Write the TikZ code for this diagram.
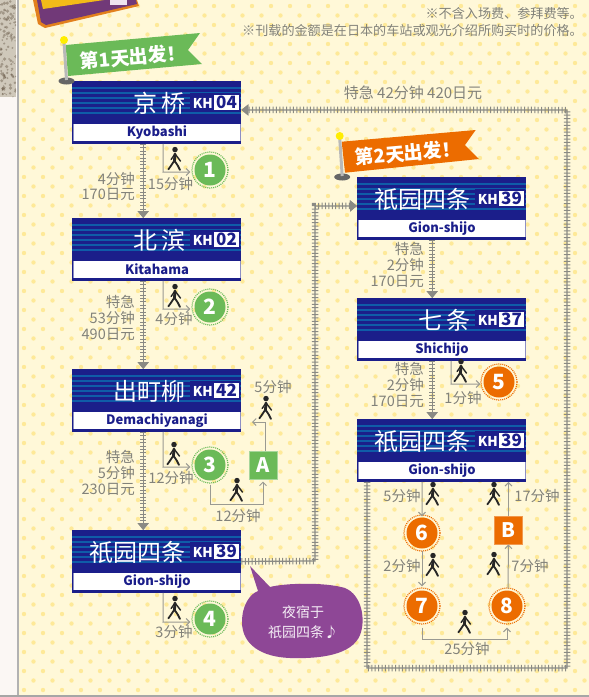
\documentclass[tikz,border=0pt]{standalone}
\usepackage{fontspec}
\usetikzlibrary{arrows.meta,calc}
\setmainfont{Noto Sans CJK SC}
\definecolor{bgc}{HTML}{FFF8D8}
\definecolor{dotc}{HTML}{FEE998}
\definecolor{navy}{HTML}{1B1E8A}
\definecolor{stripe}{HTML}{0F5CA8}
\definecolor{txt}{HTML}{82827A}
\definecolor{trk}{HTML}{8A8A84}
\definecolor{arw}{HTML}{9A9A92}
\definecolor{grn}{HTML}{6BBA58}
\definecolor{org}{HTML}{EC6C00}
\definecolor{purp}{HTML}{8E4796}
\definecolor{photo}{HTML}{CFC8BA}
\tikzset{
  x=1pt,y=-1pt,
  track/.style={draw=trk,line width=1.2pt,postaction={draw=trk,line width=6.5pt,dash pattern=on 1pt off 2.4pt}},
  trackarrow/.style={track,-{Triangle[width=11pt,length=7pt]}},
  walk/.style={draw=arw,line width=1pt,-{Straight Barb[length=3.5pt,width=7pt]}},
  lbl/.style={text=txt,font=\fontsize{14.5}{15.8}\selectfont,inner sep=0pt,align=right},
  num/.style={circle,minimum size=31pt,inner sep=0pt,text=white,font=\bfseries\fontsize{21}{21}\selectfont},
  numg/.style={num,fill=grn},
  numo/.style={num,fill=org},
  boxlab/.style={minimum size=28pt,inner sep=0pt,text=white,font=\bfseries\fontsize{20}{20}\selectfont},
  stationbox/.style={minimum width=169pt,minimum height=62.5pt,inner sep=0pt,fill=navy},
  flagtext/.style={text=white,rotate=5,font=\bfseries\fontsize{19}{19}\selectfont,inner sep=0pt},
  note/.style={text=txt,font=\fontsize{13.1}{13}\selectfont,inner sep=0pt,anchor=east},
  walker/.pic={
    \begin{scope}[scale=1.1]
    \fill[black!85] (0,-9.5) circle (2.5);
    \draw[black!85,line width=2.8pt,line cap=round,line join=round] (0,-5.5) -- (-0.5,1);
    \draw[black!85,line width=1.8pt,line cap=round,line join=round] (-0.5,0.5) -- (-3.5,5) -- (-6,8.5) (-0.5,0.5) -- (2.5,5) -- (4.5,9);
    \draw[black!85,line width=1.4pt,line cap=round,line join=round] (0,-5.5) -- (-3.5,-0.5) (0,-5.5) -- (3.5,-1) -- (5,1);
    \end{scope}
  }
}
% name, left x, top y, jp, number, en
\newcommand{\stationsign}[6]{%
  \node[stationbox,anchor=north west] (#1) at (#2,#3) {};
  \foreach \s in {6,11,16,21,26,31}{
    \fill[stripe] (#2,#3+\s) rectangle (#2+169,#3+\s+1.8);
  }
  \fill[white] (#2+1,#3+43) rectangle (#2+168,#3+59.5);
  \draw[navy!50,line width=.5pt] (#2+1,#3+43) -- (#2+1,#3+59.5) (#2+168,#3+43) -- (#2+168,#3+59.5);
  \fill[navy] (#2+118,#3+12) rectangle (#2+168,#3+31);
  \fill[white] (#2+142,#3+14) rectangle (#2+166.5,#3+29);
  \node[anchor=east,inner sep=0pt,text=white,font=\fontsize{24}{25}\selectfont] at (#2+113.5,#3+22) {#4};
  \node[anchor=east,inner sep=0pt,text=white,font=\bfseries\fontsize{13.5}{14}\selectfont] at (#2+141,#3+22.5) {KH};
  \node[inner sep=0pt,text=navy,font=\bfseries\fontsize{17}{17}\selectfont] at (#2+154.5,#3+21.5) {#5};
  \node[inner sep=0pt,text=navy,font=\bfseries\fontsize{13}{13}\selectfont] at (#2+85,#3+51.5) {#6};
}
\newcommand{\flagmark}[3]{%
  \fill[gray!80!black] (#1+2.5,#2+41) ellipse (8 and 3.5);
  \draw[gray!55,line width=3pt] (#1,#2+2) -- (#1+2.5,#2+40);
  \fill[yellow!95!orange] (#1,#2) circle (4);
}
\begin{document}
\begin{tikzpicture}
\useasboundingbox (0,0) rectangle (589,697);
% background
\fill[bgc] (0,0) rectangle (589,697);
\begin{scope}
\clip (18,0) rectangle (589,693);
\foreach \j in {-5,...,68}{
  \pgfmathsetmacro{\off}{mod(\j+6,2)*9.5}
  \foreach \i in {0,...,30}{
    \fill[dotc] (24+19*\i+\off,44+9.5*\j) circle (2.2);
  }
}
\end{scope}
\fill[white!94!brown] (0,0) rectangle (17,697);
\fill[photo] (0,0) rectangle (16,97);
\pgfmathsetseed{7}
\begin{scope}
\clip (0,0) rectangle (16,97);
\foreach \k in {1,...,110}{
  \pgfmathsetmacro{\px}{rnd*16}
  \pgfmathsetmacro{\py}{rnd*97}
  \pgfmathsetmacro{\pr}{0.6+rnd*1.3}
  \fill[black!70!brown,opacity=.3] (\px,\py) circle (\pr);
}
\end{scope}
\draw[gray!60,line width=1.4pt] (18,0) -- (18,697);
\fill[gray!70] (0,695) rectangle (589,697);
% top object
\fill[orange!55!brown] (33,0) -- (38,24) -- (45,28) -- (139,6) -- (137,0) -- cycle;
\fill[purp!80!black] (37,0) -- (41,22) -- (46,25) -- (137,4) -- (136,0) -- cycle;
\fill[yellow!55!orange!85!brown] (41,0) -- (43,9) -- (104,0) -- cycle;
\fill[white!85!purp] (110,0) rectangle (127,5);
% notes
\node[note] (n1) at (583,14) {※不含入场费、参拜费等。};
\node[note] (n2) at (583,31) {※刊载的金额是在日本的车站或观光介绍所购买时的价格。};
\stationsign{st1}{72}{81}{京\,桥}{04}{Kyobashi}
\stationsign{st2}{72}{218}{北\,滨}{02}{Kitahama}
\stationsign{st3}{72}{369}{出町柳}{42}{Demachiyanagi}
\stationsign{st4}{72}{530}{祇园四条}{39}{Gion-shijo}
\stationsign{st5}{357}{177}{祇园四条}{39}{Gion-shijo}
\stationsign{st6}{357}{298}{七\,条}{37}{Shichijo}
\stationsign{st7}{357}{419}{祇园四条}{39}{Gion-shijo}
% tracks
\draw[trackarrow] ([xshift=-13.5pt]st1.south) -- ([xshift=-13.5pt]st2.north);
\draw[trackarrow] ([xshift=-13.5pt]st2.south) -- ([xshift=-13.5pt]st3.north);
\draw[trackarrow] ([xshift=-13.5pt]st3.south) -- ([xshift=-13.5pt]st4.north);
\coordinate (c4a) at (315,561);
\coordinate (c4b) at (315,206);
\draw[trackarrow] (st4.east) -- (c4a) -- (c4b) -- ([yshift=2.5pt]st5.west);
\draw[trackarrow] ([xshift=-9.5pt]st5.south) -- ([xshift=-9.5pt]st6.north);
\draw[trackarrow] ([xshift=-9.5pt]st6.south) -- ([xshift=-9.5pt]st7.north);
\coordinate (r1) at (367,668);
\coordinate (r2) at (567,668);
\coordinate (r3) at (567,110);
\draw[trackarrow] (st7.south west) ++(10,0) -- (r1) -- (r2) -- (r3) -- ([yshift=2.5pt]st1.east);
% flags
\fill[grn] (65.7,45) -- (200,33) -- (188,50) -- (202,64) -- (68,76) -- cycle;
\flagmark{64}{40}{}
\node[flagtext] (f1) at (133,57) {第1天出发！};
\fill[org] (341.7,141.7) -- (475.7,130) -- (465,145) -- (479,159) -- (345,172.7) -- cycle;
\flagmark{339.7}{136}{}
\node[flagtext] (f2) at (408,153) {第2天出发！};
% numbered spots
\foreach \n/\t/\xx/\yy in {c1/1/210/170,c2/2/210/307,c3/3/210/465,c4/4/210/619}{
  \node[numg] (\n) at (\xx,\yy) {\t};
  \draw[grn,line width=1.2pt,dash pattern=on 1pt off 1pt] (\xx,\yy) circle (18);
}
\foreach \n/\t/\xx/\yy in {c5/5/499/382,c6/6/422/533,c7/7/422/606,c8/8/507/606}{
  \node[numo] (\n) at (\xx,\yy) {\t};
  \draw[org,line width=1.2pt,dash pattern=on 1pt off 1pt] (\xx,\yy) circle (18);
}
\node[boxlab,fill=grn,draw=grn!60,line width=1pt] (A) at (263,465) {A};
\node[boxlab,fill=org,draw=org!70,line width=1pt] (B) at (508.5,530) {B};
% walking connectors
\coordinate (w1) at (163,172);
\draw[walk] ([xshift=6.5pt]st1.south) -- (w1) -- ([shift={(-4,2)}]c1.west);
\coordinate (w2) at (163,309);
\draw[walk] ([xshift=6.5pt]st2.south) -- (w2) -- ([shift={(-4,2)}]c2.west);
\coordinate (w3) at (163,467);
\draw[walk] ([xshift=6.5pt]st3.south) -- (w3) -- ([shift={(-4,2)}]c3.west);
\coordinate (w4) at (163,622);
\draw[walk] ([xshift=6.5pt]st4.south) -- (w4) -- ([shift={(-4,3)}]c4.west);
\coordinate (w5) at (451,384);
\draw[walk] ([xshift=9.5pt]st6.south) -- (w5) -- ([shift={(-3,2)}]c5.west);
\coordinate (wa) at (210,504);
\coordinate (wb) at (263,504);
\draw[walk] (c3.south) ++(0,4) -- (wa) -- (wb) -- ([yshift=-2pt]A.south);
\coordinate (wc) at (265,422);
\coordinate (wd) at (252,422);
\draw[walk] (A.north) ++(2,0) -- (wc) -- (wd);
\draw[walk] ([xshift=-19.5pt]st7.south) -- ([yshift=1pt]c6.north);
\draw[walk] ([yshift=-2pt]c6.south) -- ([yshift=4pt]c7.north);
\draw[walk] (B.north) -- (st7.south -| B.north);
\draw[walk] (c8.north) ++(1,-2) -- (B.south);
\coordinate (we) at (422,639);
\coordinate (wf) at (507,639);
\draw[walk] (c7.south) ++(0,6) -- (we) -- (wf) -- ([yshift=-6pt]c8.south);
% walkers
\foreach \xx/\yy in {175/160,175/297,174/455,266/409,237/491,175/609,461/372,433/495,494/495,433/566,494/565,465/623}{
  \pic at (\xx,\yy) {walker};
}
% labels
\node[lbl,anchor=east] (l0) at (135,186.5) {4分钟\\170日元};
\node[lbl] (l1) at (170.5,184) {15分钟};
\node[lbl,anchor=east] (l2) at (135,318) {特急\\53分钟\\490日元};
\node[lbl] (l3) at (174,319) {4分钟};
\node[lbl,anchor=east] (l4) at (135,473) {特急\\5分钟\\230日元};
\node[lbl] (l5) at (171,478) {12分钟};
\node[lbl] (l6) at (238,516) {12分钟};
\node[lbl] (l7) at (273,387) {5分钟};
\node[lbl] (l8) at (174,632) {3分钟};
\node[lbl,font=\fontsize{15}{16}\selectfont] (l9) at (413,93) {特急 42分钟 420日元};
\node[lbl,anchor=east] (l10) at (424,265) {特急\\2分钟\\170日元};
\node[lbl,anchor=east] (l11) at (424,385) {特急\\2分钟\\170日元};
\node[lbl] (l12) at (463,398) {1分钟};
\node[lbl] (l13) at (402,496) {5分钟};
\node[lbl] (l14) at (402,566) {2分钟};
\node[lbl] (l15) at (537,496) {17分钟};
\node[lbl] (l16) at (530,566) {7分钟};
\node[lbl] (l17) at (467,649) {25分钟};
% speech bubble
\fill[purp] (250,566) -- (270,587) .. controls (285,583) and (325,582) .. (345,588)
  .. controls (362,595) and (366,620) .. (360,635)
  .. controls (352,655) and (320,659) .. (290,658)
  .. controls (262,657) and (242,645) .. (242,622)
  .. controls (242,605) and (250,594) .. (258,591) -- cycle;
\node[inner sep=0pt,text=white!90!purp,align=center,font=\fontsize{14}{20}\selectfont] (bub) at (303,622) {夜宿于\\祇园四条♪};
\end{tikzpicture}
\end{document}
